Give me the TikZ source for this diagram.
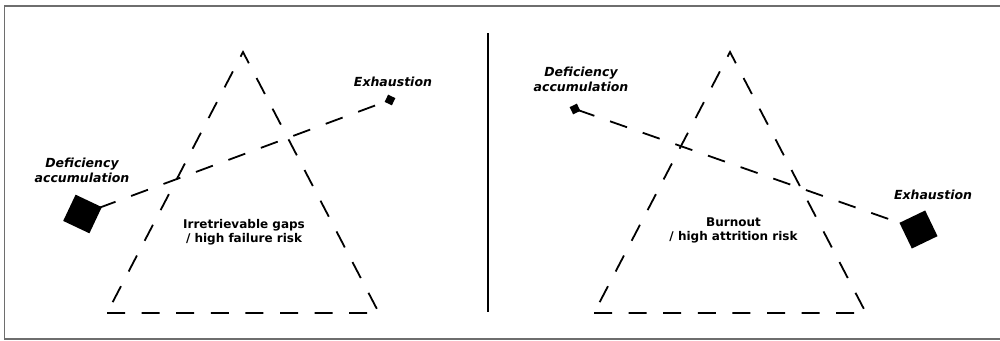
\documentclass[tikz,border=0pt]{standalone}
\usepackage{fontspec}
\setmainfont{DejaVu Sans}
\definecolor{framegray}{RGB}{110,110,110}
\begin{document}
\begin{tikzpicture}[x=1pt,y=-1pt,
  tri/.style={line width=1.8pt, dash pattern=on 18pt off 16.6pt},
  conn/.style={line width=1.8pt, dash pattern=on 18pt off 16.6pt},
  sq/.style={rectangle, fill=black, inner sep=0pt, minimum size=#1},
  lbl/.style={font=\fontsize{12.5}{15}\selectfont\bfseries\itshape, align=center, inner sep=0pt},
  mid/.style={font=\fontsize{12}{14.4}\selectfont\bfseries, align=center, inner sep=0pt},
  framel/.style={line width=1.8pt, draw=framegray}]
\useasboundingbox (0,0) rectangle (1000,340);
\draw[framel] (1001,6) -- (4.5,6) -- (4.5,339) -- (1001,339);
% separator
\coordinate (sepT) at (488,33);
\coordinate (sepB) at (488,312);
\draw[line width=1.6pt] (sepT) -- (sepB);
% left panel
\coordinate (LBL) at (107,313);
\coordinate (LBR) at (379,313);
\coordinate (LA) at (243,52);
\draw[tri] (LBL) -- (LBR) -- (LA) -- cycle;
\node[sq=29pt, rotate=64.7] (Lbig) at (82.5,214) {};
\node[sq=8pt, rotate=64.7] (Lsmall) at (390,100) {};
\draw[conn, dash phase=17.4pt] (Lbig.center) -- (Lsmall.center);
\node[lbl] (Ldef) at (82,170.5) {Deficiency\\accumulation};
\node[lbl] (Lexh) at (393,82) {Exhaustion};
\node[mid] (Lmid) at (244,232) {Irretrievable gaps\\/ high failure risk};
% right panel
\coordinate (RBL) at (594,313);
\coordinate (RBR) at (866,313);
\coordinate (RA) at (730,52);
\draw[tri] (RBL) -- (RBR) -- (RA) -- cycle;
\node[sq=8pt, rotate=25.7] (Rsmall) at (575,109) {};
\node[sq=28.5pt, rotate=25.7] (Rbig) at (918.5,229.5) {};
\draw[conn, dash phase=32.1pt] (Rsmall.center) -- (Rbig.center);
\node[lbl] (Rdef) at (581,79) {Deficiency\\accumulation};
\node[lbl] (Rexh) at (933,195) {Exhaustion};
\node[mid] (Rmid) at (733.5,230.5) {Burnout\\/ high attrition risk};
\end{tikzpicture}
\end{document}
